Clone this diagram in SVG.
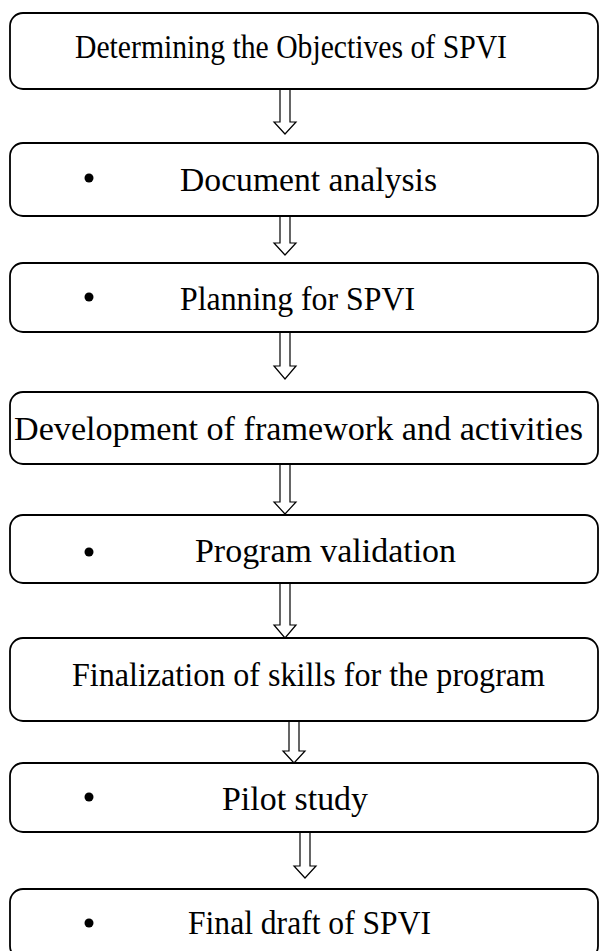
<svg xmlns="http://www.w3.org/2000/svg" width="601" height="951" viewBox="0 0 601 951">
<style>
.box{fill:#fff;stroke:#000;stroke-width:1.8}
.t{font-family:"Liberation Serif","Times New Roman",serif;fill:#000;font-size:34px}
.b{font-size:34px}
.arr{fill:#fff;stroke:#000;stroke-width:1.2;stroke-linejoin:miter}
.dot{fill:#000}
</style>
<rect width="601" height="951" fill="#fff"/>
<g id="n1"><rect class="box" x="10" y="13" width="588" height="76" rx="13"/><text class="t" x="75" y="58" textLength="432" lengthAdjust="spacingAndGlyphs">Determining the Objectives of SPVI</text></g>
<g id="n2"><rect class="box" x="10" y="143" width="588" height="73" rx="13"/><circle class="dot" cx="89" cy="178" r="4.5"/><text class="t b" x="180" y="191" textLength="257" lengthAdjust="spacingAndGlyphs">Document analysis</text></g>
<g id="n3"><rect class="box" x="10" y="263" width="588" height="69" rx="13"/><circle class="dot" cx="89" cy="297" r="4.5"/><text class="t b" x="180" y="310" textLength="235" lengthAdjust="spacingAndGlyphs">Planning for SPVI</text></g>
<g id="n4"><rect class="box" x="10" y="392" width="588" height="72" rx="13"/><text class="t" x="14" y="440" textLength="569" lengthAdjust="spacingAndGlyphs">Development of framework and activities</text></g>
<g id="n5"><rect class="box" x="10" y="515" width="588" height="68" rx="13"/><circle class="dot" cx="89" cy="552" r="4.5"/><text class="t b" x="195" y="562" textLength="261" lengthAdjust="spacingAndGlyphs">Program validation</text></g>
<g id="n6"><rect class="box" x="10" y="638" width="588" height="83" rx="13"/><text class="t" x="72" y="686" textLength="473" lengthAdjust="spacingAndGlyphs">Finalization of skills for the program</text></g>
<g id="n7"><rect class="box" x="10" y="763" width="588" height="69" rx="13"/><circle class="dot" cx="89" cy="797" r="4.5"/><text class="t b" x="222" y="810" textLength="146" lengthAdjust="spacingAndGlyphs">Pilot study</text></g>
<g id="n8"><rect class="box" x="10" y="889" width="588" height="70" rx="13"/><circle class="dot" cx="89" cy="923" r="4.5"/><text class="t b" x="188" y="934" textLength="243" lengthAdjust="spacingAndGlyphs">Final draft of SPVI</text></g>
<g id="connectors">
<path class="arr" d="M280,90 V122 H274 L285,134 L296,122 H290 V90"/>
<path class="arr" d="M280,217 V243 H274 L285,255 L296,243 H290 V217"/>
<path class="arr" d="M280,333 V366 H274 L285,379 L296,366 H290 V333"/>
<path class="arr" d="M280,465 V502 H274 L285,514 L296,502 H290 V465"/>
<path class="arr" d="M280,584 V625 H274 L285,638 L296,625 H290 V584"/>
<path class="arr" d="M289,722 V751 H283 L294,763 L305,751 H299 V722"/>
<path class="arr" d="M300,833 V866 H294 L305,878 L316,866 H310 V833"/>
</g>
</svg>
